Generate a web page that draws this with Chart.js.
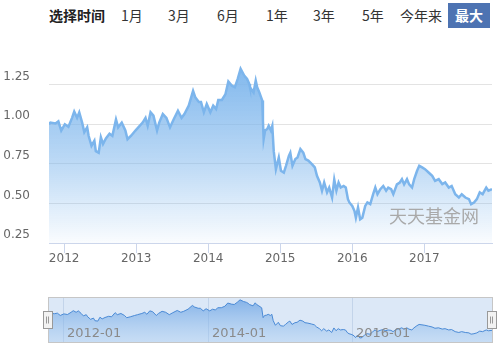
<!DOCTYPE html>
<html>
<head>
<meta charset="utf-8">
<script src="https://cdn.jsdelivr.net/npm/chart.js@4.4.1/dist/chart.umd.min.js"></script>
<style>
  html, body { margin:0; padding:0; background:#fff; }
  body { width:501px; height:358px; position:relative; overflow:hidden; font-family:"Noto Sans CJK SC", sans-serif; }
  .tab { position:absolute; top:3px; height:25px; line-height:25px; font-size:14px; color:#333; white-space:nowrap; }
  .tab.title { font-weight:bold; color:#222; }
  .tab.active { background:#4d73b2; color:#fff; font-weight:bold; width:42px; text-align:center; }
  #main { position:absolute; left:0; top:0; }
  #nav { position:absolute; left:0; top:290px; }
  #wm { position:absolute; left:389px; top:203px; font-size:18px; line-height:24px; color:#a9a9a9; font-family:"Noto Sans CJK SC", sans-serif; }
</style>
</head>
<body>
<div id="tabs"></div>
<canvas id="main" width="501" height="275"></canvas>
<div id="wm">天天基金网</div>
<canvas id="nav" width="501" height="60"></canvas>
<script>
// ---- data ----
const periodTitle = '选择时间';
const periods = ['1月','3月','6月','1年','3年','5年','今年来','最大'];
const periodLeft = [121,168,217,266,313,362,400,448];
const activePeriod = '最大';

const years = [
2011.79,2011.81,2011.88,2011.92,2011.96,2012.01,2012.06,2012.11,2012.14,2012.18,
2012.21,2012.25,2012.28,2012.32,2012.34,2012.38,2012.42,2012.44,2012.48,2012.51,
2012.54,2012.58,2012.63,2012.67,2012.72,2012.75,2012.80,2012.85,2012.88,2012.93,
2012.99,2013.03,2013.09,2013.13,2013.16,2013.20,2013.24,2013.29,2013.32,2013.37,
2013.42,2013.47,2013.52,2013.58,2013.63,2013.67,2013.73,2013.79,2013.82,2013.87,
2013.90,2013.94,2013.98,2014.03,2014.07,2014.11,2014.14,2014.19,2014.24,2014.28,
2014.33,2014.37,2014.41,2014.45,2014.50,2014.54,2014.57,2014.58,2014.63,2014.66,
2014.68,2014.71,2014.75,2014.76,2014.77,2014.79,2014.82,2014.84,2014.87,2014.89,
2014.91,2014.94,2014.98,2015.01,2015.05,2015.08,2015.12,2015.14,2015.17,2015.21,
2015.24,2015.28,2015.32,2015.35,2015.39,2015.44,2015.48,2015.51,2015.55,2015.58,
2015.61,2015.65,2015.68,2015.72,2015.75,2015.78,2015.81,2015.84,2015.88,2015.91,
2015.94,2015.96,2016.00,2016.03,2016.05,2016.08,2016.11,2016.14,2016.18,2016.21,
2016.25,2016.29,2016.32,2016.35,2016.39,2016.43,2016.47,2016.50,2016.54,2016.57,
2016.62,2016.66,2016.69,2016.72,2016.76,2016.79,2016.83,2016.86,2016.90,2016.93,
2016.97,2017.01,2017.06,2017.11,2017.15,2017.20,2017.25,2017.29,2017.34,2017.38,
2017.43,2017.48,2017.52,2017.57,2017.62,2017.65,2017.69,2017.73,2017.77,2017.81,
2017.86,2017.89,2017.94];

const navValues = [
1.000,1.010,1.005,1.018,0.960,1.000,0.984,1.040,1.080,1.040,
1.075,1.010,0.950,0.980,0.927,0.864,0.895,0.830,0.820,0.917,
0.875,0.910,0.940,0.927,1.030,0.980,1.010,0.960,0.905,0.927,
0.960,0.980,1.010,1.040,0.990,1.075,1.054,0.960,1.010,1.064,
1.040,0.980,1.030,1.085,1.040,1.064,1.117,1.210,1.170,1.140,
1.140,1.075,1.128,1.075,1.117,1.096,1.153,1.153,1.190,1.270,
1.243,1.233,1.286,1.350,1.307,1.286,1.254,1.233,1.200,1.275,
1.233,1.200,1.150,1.022,0.906,0.960,0.970,0.990,0.960,0.990,
0.830,0.716,0.790,0.706,0.695,0.737,0.800,0.820,0.737,0.780,
0.790,0.843,0.820,0.780,0.770,0.748,0.727,0.674,0.632,0.580,
0.632,0.570,0.600,0.537,0.650,0.580,0.632,0.600,0.610,0.600,
0.527,0.506,0.484,0.453,0.410,0.474,0.400,0.410,0.484,0.506,
0.495,0.558,0.600,0.558,0.590,0.610,0.580,0.600,0.590,0.558,
0.620,0.632,0.653,0.620,0.653,0.620,0.600,0.653,0.706,0.737,
0.727,0.716,0.695,0.674,0.642,0.653,0.622,0.632,0.600,0.610,
0.558,0.537,0.558,0.537,0.527,0.495,0.506,0.527,0.570,0.558,
0.600,0.580,0.590];

const yearTicks = [2012,2013,2014,2015,2016,2017];
const valueTicks = [0.25,0.50,0.75,1.00,1.25];
const navTicks = [2012,2014,2016];
const navTickLabels = ['2012-01','2014-01','2016-01'];

// ---- tabs (HTML text) ----
const tabs = document.getElementById('tabs');
const t0 = document.createElement('div');
t0.className = 'tab title'; t0.style.left = '49px'; t0.textContent = periodTitle;
tabs.appendChild(t0);
periods.forEach((p,i)=>{
  const d = document.createElement('div');
  d.className = 'tab' + (p === activePeriod ? ' active' : '');
  d.style.left = periodLeft[i] + 'px';
  d.textContent = p;
  tabs.appendChild(d);
});

const points = years.map((x,i)=>({x:x, y:navValues[i]}));
const xMin = years[0], xMax = years[years.length-1];

// ---- main chart ----
new Chart(document.getElementById('main'), {
  type:'line',
  data:{ datasets:[{
    data: points,
    borderColor:'#7cb5ec',
    borderWidth:2.5,
    pointRadius:0,
    tension:0,
    fill:'start',
    backgroundColor:(c)=>{
      const ch = c.chart, a = ch.chartArea;
      if(!a) return 'rgba(124,181,236,0.5)';
      const g = ch.ctx.createLinearGradient(0,a.top,0,a.bottom);
      g.addColorStop(0,'rgba(124,181,236,1)');
      g.addColorStop(0.2,'rgba(124,181,236,0.88)');
      g.addColorStop(0.6,'rgba(124,181,236,0.5)');
      g.addColorStop(1,'rgba(124,181,236,0.04)');
      return g;
    }
  }]},
  options:{
    responsive:false, animation:false, events:[],
    layout:{ padding:{ top:45, right:9, left:0, bottom:0 } },
    plugins:{ legend:{display:false}, tooltip:{enabled:false} },
    scales:{
      x:{
        type:'linear', min:xMin, max:xMax,
        afterBuildTicks:(s)=>{ s.ticks = yearTicks.map(v=>({value:v})); },
        afterFit:(s)=>{ s.height = 32; },
        border:{ display:true, color:'#ccd6eb', width:1 },
        grid:{ drawOnChartArea:false, drawTicks:true, tickLength:10, color:'#ccd6eb' },
        ticks:{ padding:-1, color:'#666', font:{ family:'"DejaVu Sans"', size:12 }, maxRotation:0,
                callback:(v)=>String(v) }
      },
      y:{
        min:0.25, max:1.5,
        afterBuildTicks:(s)=>{ s.ticks = valueTicks.map(v=>({value:v})); },
        afterFit:(s)=>{ s.width = 49; },
        border:{ display:false },
        grid:{ color:'#e3e3e3', drawTicks:false },
        ticks:{ padding:19, labelOffset:-8, color:'#666', font:{ family:'"DejaVu Sans"', size:12 },
                callback:(v)=>Number(v).toFixed(2) }
      }
    }
  }
});

// ---- navigator ----
const navDecor = {
  id:'navDecor',
  beforeDatasetsDraw(chart){
    const {ctx, chartArea:a, scales:{x}} = chart;
    ctx.save();
    ctx.fillStyle = '#dce8f7';
    ctx.fillRect(a.left, a.top, a.right-a.left, a.bottom-a.top);
    ctx.strokeStyle = '#c3d4ea'; ctx.lineWidth = 1;
    navTicks.forEach(t=>{
      const px = Math.round(x.getPixelForValue(t)) + 0.5;
      ctx.beginPath(); ctx.moveTo(px, a.top); ctx.lineTo(px, a.bottom); ctx.stroke();
    });
    ctx.restore();
  },
  afterDatasetsDraw(chart){
    const {ctx, chartArea:a, scales:{x}} = chart;
    ctx.save();
    ctx.fillStyle = '#8a8a8a';
    ctx.font = '13px "DejaVu Sans"';
    ctx.textBaseline = 'middle';
    navTicks.forEach((t,i)=>{
      const px = Math.round(x.getPixelForValue(t));
      ctx.fillText(navTickLabels[i], px + 4, a.bottom - 8);
    });
    ctx.strokeStyle = '#c6c6c6'; ctx.lineWidth = 1;
    ctx.strokeRect(Math.round(a.left)+0.5, Math.round(a.top)+0.5, Math.round(a.right-a.left), Math.round(a.bottom-a.top));
    const cy = (a.top + a.bottom) / 2;
    [a.left, a.right].forEach(hx=>{
      const l = Math.round(hx - 5) + 0.5, tp = Math.round(cy - 9) + 0.5;
      ctx.fillStyle = '#f2f2f2'; ctx.strokeStyle = '#999';
      ctx.fillRect(l, tp, 9, 17); ctx.strokeRect(l, tp, 9, 17);
      ctx.beginPath();
      ctx.moveTo(l+3, tp+5); ctx.lineTo(l+3, tp+12);
      ctx.moveTo(l+5, tp+5); ctx.lineTo(l+5, tp+12);
      ctx.stroke();
    });
    ctx.restore();
  }
};

new Chart(document.getElementById('nav'), {
  type:'line',
  data:{ datasets:[{
    data: points,
    borderColor:'#4a8ad6',
    borderWidth:1,
    pointRadius:0,
    tension:0,
    fill:'start',
    backgroundColor:(c)=>{
      const ch = c.chart, a = ch.chartArea;
      if(!a) return 'rgba(120,170,230,0.5)';
      const g = ch.ctx.createLinearGradient(0,a.top,0,a.bottom);
      g.addColorStop(0,'rgba(95,155,225,0.75)');
      g.addColorStop(1,'rgba(160,200,240,0.35)');
      return g;
    }
  }]},
  options:{
    responsive:false, animation:false, events:[],
    layout:{ padding:{ top:7, right:9, left:48, bottom:8 } },
    plugins:{ legend:{display:false}, tooltip:{enabled:false} },
    scales:{
      x:{ type:'linear', min:xMin, max:xMax, display:false },
      y:{ min:0.3, max:1.42, display:false }
    }
  },
  plugins:[navDecor]
});
</script>
</body>
</html>
